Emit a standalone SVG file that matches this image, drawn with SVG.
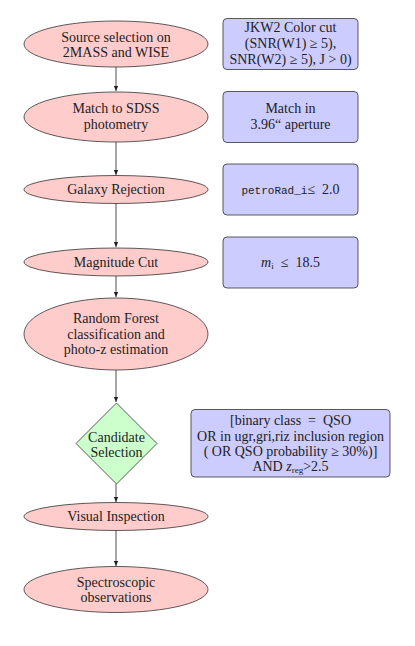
<svg xmlns="http://www.w3.org/2000/svg" width="415" height="646" viewBox="0 0 415 646" font-family="'Liberation Serif', 'Times New Roman', serif">
<style>
.e{fill:#ffcccc;stroke:#333;stroke-width:0.8}
.b{fill:#ccccff;stroke:#333;stroke-width:0.8}
.d{fill:#ccffcc;stroke:#333;stroke-width:0.8}
text{font-family:'Liberation Serif','Times New Roman',serif;font-size:14px;fill:#222;text-anchor:middle;white-space:pre}
.m{font-family:'Liberation Mono','Courier New',monospace;font-size:11px}
.c line{stroke:#222;stroke-width:0.8;marker-end:url(#ah)}
</style>
<defs>
<marker id="ah" markerWidth="6" markerHeight="6" refX="5" refY="3" orient="auto" markerUnits="userSpaceOnUse">
<path d="M0,0.8 L5,3 L0,5.2 Z" fill="#222"/>
</marker>
</defs>
<rect width="415" height="646" fill="#fff"/>
<g class="c">
<line x1="116" y1="67" x2="116" y2="91"/>
<line x1="116" y1="142" x2="116" y2="175"/>
<line x1="116" y1="203" x2="116" y2="247"/>
<line x1="116" y1="276" x2="116" y2="297"/>
<line x1="116" y1="370" x2="116" y2="402"/>
<line x1="116" y1="484" x2="116" y2="502"/>
<line x1="116" y1="530" x2="116" y2="566"/>
</g>
<g id="n1"><ellipse class="e" cx="116" cy="44" rx="92" ry="23"/><text x="116" y="41.5">Source selection on</text><text x="116" y="57">2MASS and WISE</text></g>
<g id="b1"><rect class="b" x="223" y="18.5" width="135" height="51" rx="4"/><text x="290.5" y="32">JKW2 Color cut</text><text x="290.5" y="48">(SNR(W1) ≥ 5),</text><text x="290.5" y="64">SNR(W2) ≥ 5), J &gt; 0)</text></g>
<g id="n2"><ellipse class="e" cx="116" cy="117" rx="92" ry="25"/><text x="116" y="112.5">Match to SDSS</text><text x="116" y="128.5">photometry</text></g>
<g id="b2"><rect class="b" x="223" y="91.5" width="135" height="51" rx="4"/><text x="290.5" y="112.5">Match in</text><text x="290.5" y="128.5">3.96“ aperture</text></g>
<g id="n3"><ellipse class="e" cx="116" cy="189.5" rx="92" ry="14"/><text x="116" y="193.5">Galaxy Rejection</text></g>
<g id="b3"><rect class="b" x="223" y="164" width="135" height="51" rx="4"/><text x="290.5" y="193.5"><tspan class="m">petroRad_i</tspan>≤  2.0</text></g>
<g id="n4"><ellipse class="e" cx="116" cy="262" rx="92" ry="14"/><text x="116" y="266.5">Magnitude Cut</text></g>
<g id="b4"><rect class="b" x="223" y="237" width="135" height="51" rx="4"/><text x="290.5" y="266.5"><tspan font-style="italic">m</tspan><tspan font-size="9" dy="2">i</tspan><tspan dy="-2">  ≤  18.5</tspan></text></g>
<g id="n5"><ellipse class="e" cx="116" cy="334" rx="92" ry="36"/><text x="116" y="322.5">Random Forest</text><text x="116" y="338.5">classification and</text><text x="116" y="353.5">photo-z estimation</text></g>
<g id="n6"><polygon class="d" points="116.5,403 157,443.5 116.5,484 76,443.5"/><text x="116.5" y="442">Candidate</text><text x="116.5" y="457">Selection</text></g>
<g id="b5"><rect class="b" x="191" y="409.5" width="199" height="67.5" rx="4"/><text x="290.5" y="425">[binary class  =  QSO</text><text x="290.5" y="440.5">OR in ugr,gri,riz inclusion region</text><text x="290.5" y="456">( OR QSO probability ≥ 30%)]</text><text x="290.5" y="471">AND <tspan font-style="italic">z</tspan><tspan font-size="9" dy="2">reg</tspan><tspan dy="-2">&gt;2.5</tspan></text></g>
<g id="n7"><ellipse class="e" cx="116" cy="516.5" rx="92" ry="14"/><text x="116" y="521">Visual Inspection</text></g>
<g id="n8"><ellipse class="e" cx="116" cy="589.5" rx="92" ry="23"/><text x="116" y="586.5">Spectroscopic</text><text x="116" y="601.5">observations</text></g>
</svg>
